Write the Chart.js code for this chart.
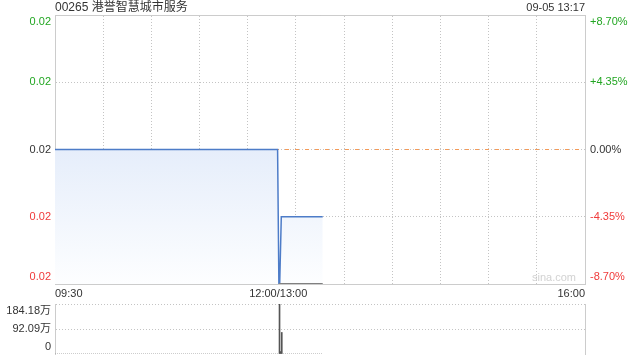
<!DOCTYPE html>
<html>
<head>
<meta charset="utf-8">
<script src="https://cdn.jsdelivr.net/npm/chart.js@4"></script>
<style>
  body { margin: 0; background: #fff; }
  #wrap { position: relative; width: 640px; height: 360px; }
  canvas { position: absolute; left: 0; }
</style>
</head>
<body>
<div id="wrap">
  <canvas id="price" width="640" height="300" style="top:0"></canvas>
  <canvas id="vol" width="640" height="60" style="top:300px"></canvas>
</div>
<script>
const title = '00265 港誉智慧城市服务';
const stamp = '09-05 13:17';
const timeLabels = ['09:30', '12:00/13:00', '16:00'];
const timeSlots = [0, 139, 330];
const prevClose = 0.023;
const priceTicks = [0.021, 0.022, 0.023, 0.024, 0.025];
const priceTickLabels = ['0.02', '0.02', '0.02', '0.02', '0.02'];
const pctTickLabels = ['-8.70%', '-4.35%', '0.00%', '+4.35%', '+8.70%'];
const priceX = [0, 138.6, 139.4, 139.9, 140.9, 166.7];
const priceY = [0.023, 0.023, 0.021, 0.021, 0.022, 0.022];
const avgX = [139.4, 166.7];
const avgY = [0.021, 0.021];
const volX = [139.8, 140.4, 141.2];
const volY = [184.18, 9, 79.3];
const volTicks = [0, 92.09, 184.18];
const volTickLabels = ['0', '92.09万', '184.18万'];

Chart.defaults.font.family = '"Liberation Sans", Arial, "Noto Sans CJK SC", sans-serif';
Chart.defaults.font.size = 11;
Chart.defaults.color = '#333';

const gridCol = '#c4c4c4';
const borderCol = '#cccccc';

// push first/last label inward so they stay inside the box
function edge(lbl, i, n) {
    if (i === 0) return [lbl, ''];
    if (i === n - 1) return ['', lbl];
    return lbl;
}
function tickColor(i) {
    if (i < 2) return '#f03a3a';
    if (i > 2) return '#22a622';
    return '#333';
}
function fixWidth(w) {
    return (s) => { s.width = w; s.paddingTop = 0; s.paddingBottom = 0; };
}

const textPlugin = {
    id: 'texts',
    afterDraw(chart) {
        const ctx = chart.ctx;
        const area = chart.chartArea;
        ctx.save();
        ctx.textBaseline = 'middle';
        ctx.fillStyle = '#333';
        ctx.font = '12px "Liberation Sans", Arial, "Noto Sans CJK SC", sans-serif';
        ctx.textAlign = 'left';
        ctx.fillText(title, area.left, 8);
        ctx.font = '11px "Liberation Sans", Arial, sans-serif';
        ctx.textAlign = 'right';
        ctx.fillText(stamp, area.right, 8);
        ctx.fillStyle = '#d2d2d2';
        ctx.textAlign = 'left';
        ctx.fillText('sina.com', area.right - 53, area.bottom - 6);
        ctx.restore();
    }
};

new Chart(document.getElementById('price'), {
    type: 'line',
    data: {
        datasets: [{
            data: priceX.map((x, i) => ({ x: x, y: priceY[i] })),
            borderColor: '#4d7cc8',
            borderWidth: 1.5,
            pointRadius: 0,
            tension: 0,
            fill: 'start',
            backgroundColor: (c) => {
                const area = c.chart.chartArea;
                if (!area) return 'rgba(220,230,248,0.6)';
                const g = c.chart.ctx.createLinearGradient(0, area.top, 0, area.bottom);
                g.addColorStop(0, 'rgb(206,221,246)');
                g.addColorStop(1, 'rgb(253,254,255)');
                return g;
            },
            order: 2
        }, {
            data: avgX.map((x, i) => ({ x: x, y: avgY[i] })),
            borderColor: '#808080',
            borderWidth: 2,
            pointRadius: 0,
            fill: false,
            order: 1
        }, {
            data: [{ x: timeSlots[0], y: prevClose }, { x: timeSlots[2], y: prevClose }],
            borderColor: '#f49a58',
            borderWidth: 1,
            borderDash: [4, 6],
            pointRadius: 0,
            fill: false,
            order: 3
        }]
    },
    options: {
        responsive: false,
        animation: false,
        layout: { padding: { top: 15, left: 0, right: 0, bottom: 0 } },
        plugins: { legend: { display: false }, tooltip: { enabled: false } },
        scales: {
            x: {
                type: 'linear', position: 'bottom', min: 0, max: 330,
                afterBuildTicks: (s) => { s.ticks = timeSlots.map(v => ({ value: v })); },
                afterFit: (s) => { s.height = 16; s.paddingLeft = 0; s.paddingRight = 0; },
                grid: { display: false, drawTicks: false },
                border: { display: true, color: borderCol },
                ticks: {
                    autoSkip: false, maxRotation: 0, minRotation: 0, align: 'inner', padding: 3,
                    callback: (v, i) => timeLabels[i]
                }
            },
            xg: {
                type: 'linear', position: 'top', min: 0, max: 330,
                afterBuildTicks: (s) => {
                    const t = [];
                    for (let k = 0; k <= 11; k++) t.push({ value: k * 30 });
                    s.ticks = t;
                },
                afterFit: (s) => { s.height = 0; s.paddingLeft = 0; s.paddingRight = 0; },
                grid: { color: gridCol, drawTicks: false },
                border: { display: true, color: borderCol, dash: [1, 2] },
                ticks: { display: false }
            },
            y: {
                type: 'linear', position: 'left', min: priceTicks[0], max: priceTicks[priceTicks.length - 1],
                afterBuildTicks: (s) => { s.ticks = priceTicks.map(v => ({ value: v })); },
                afterFit: fixWidth(55),
                grid: { color: gridCol, drawTicks: false },
                border: { display: true, color: borderCol, dash: [1, 2] },
                ticks: {
                    padding: 4, autoSkip: false,
                    color: (c) => tickColor(c.index),
                    callback: (v, i) => edge(priceTickLabels[i], i, priceTickLabels.length)
                }
            },
            y2: {
                type: 'linear', position: 'right', min: priceTicks[0], max: priceTicks[priceTicks.length - 1],
                afterBuildTicks: (s) => { s.ticks = priceTicks.map(v => ({ value: v })); },
                afterFit: fixWidth(55),
                grid: { display: false, drawTicks: false },
                border: { display: true, color: borderCol },
                ticks: {
                    padding: 5, autoSkip: false,
                    color: (c) => tickColor(c.index),
                    callback: (v, i) => edge(pctTickLabels[i], i, pctTickLabels.length)
                }
            }
        }
    },
    plugins: [textPlugin]
});

new Chart(document.getElementById('vol'), {
    type: 'bar',
    data: {
        datasets: [{
            type: 'bar',
            data: volX.map((x, i) => ({ x: x, y: volY[i] })),
            backgroundColor: '#555',
            barThickness: 1
        }, {
            type: 'line',
            data: [{ x: timeSlots[0], y: 0 }, { x: priceX[priceX.length - 1], y: 0 }],
            borderColor: '#9a9a9a',
            borderWidth: 1,
            borderDash: [1, 1],
            pointRadius: 0
        }]
    },
    options: {
        responsive: false,
        animation: false,
        layout: { padding: { top: 4, left: 0, right: 0, bottom: 6 } },
        plugins: { legend: { display: false }, tooltip: { enabled: false } },
        scales: {
            x: { type: 'linear', min: 0, max: 330, offset: false, display: false, grid: { offset: false } },
            y: {
                position: 'left', min: 0, max: volTicks[volTicks.length - 1],
                afterBuildTicks: (s) => { s.ticks = volTicks.map(v => ({ value: v })); },
                afterFit: fixWidth(55),
                grid: { color: (c) => c.index === 0 ? 'rgba(0,0,0,0)' : gridCol, drawTicks: false },
                border: { display: true, color: borderCol, dash: [1, 2] },
                ticks: {
                    padding: 4, autoSkip: false,
                    callback: (v, i) => edge(volTickLabels[i], i, volTickLabels.length)
                }
            },
            yr: {
                position: 'right', min: 0, max: volTicks[volTicks.length - 1],
                afterFit: fixWidth(55),
                grid: { display: false, drawTicks: false },
                border: { display: true, color: borderCol },
                ticks: { display: false }
            }
        }
    }
});
</script>
</body>
</html>
